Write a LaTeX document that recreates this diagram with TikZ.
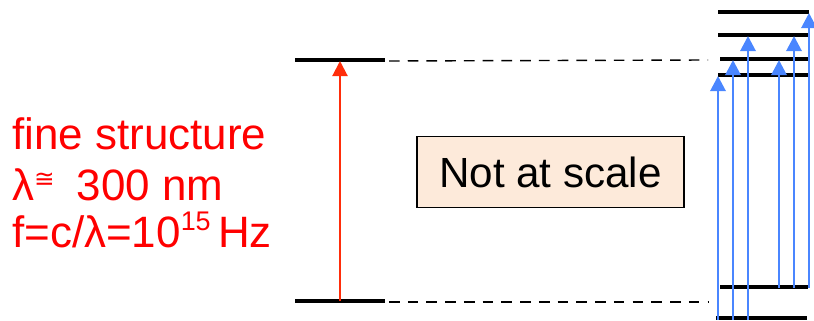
\documentclass[tikz,border=0pt]{standalone}
\usepackage{fontspec}
\setmainfont{Liberation Sans}
\newfontfamily\symfont{DejaVu Sans}
\usetikzlibrary{arrows.meta}
\definecolor{finered}{RGB}{255,0,0}
\definecolor{arrowred}{RGB}{255,45,10}
\definecolor{lineblue}{RGB}{74,134,255}
\definecolor{boxfill}{RGB}{253,234,218}
\tikzset{
  level/.style={line width=3.4pt},
  guide/.style={line width=1.2pt, dash pattern=on 9pt off 7pt},
  bigtip/.style={-{Triangle[width=13pt,length=13pt]}},
  redline/.style={bigtip, line width=1.8pt, draw=arrowred},
  blueline/.style={bigtip, line width=2.5pt, draw=lineblue},
  redtext/.style={text=finered, anchor=base west, inner sep=0pt, font=\fontsize{37.5}{42}\selectfont}
}
\begin{document}
\begin{tikzpicture}[x=0.03cm, y=-0.03cm]
\useasboundingbox (0,0) rectangle (814,321);
\node[redtext] (fs) at (12,150) {fine structure};
\node[redtext] (lam) at (12,201) {λ\raisebox{0.30em}{\fontsize{21}{21}\symfont ≅}\hspace{0.5em}300 nm};
\node[redtext] (freq) at (12,248) {f=c/λ=10\raisebox{0.40em}{\fontsize{23}{23}\selectfont 15}\,Hz};
\node[draw, line width=1pt, fill=boxfill, minimum width=228pt, minimum height=60pt, font=\fontsize{36}{42}\selectfont] (note) at (550.5,172) {Not at scale};
\coordinate (ua) at (295,60);
\coordinate (ub) at (385,60);
\coordinate (la) at (295,301);
\coordinate (lb) at (385,301);
\coordinate (uc) at (708,60);
\coordinate (lc) at (708,302);
\draw[level] (ua) -- (ub);
\draw[level] (la) -- (lb);
\draw[guide] (ub) ++(4,1) -- (uc);
\draw[guide] (lb) ++(4,1) -- (lc);
\coordinate (r1) at (340,301);
\coordinate (r2) at (340,61);
\draw[redline] (r1) -- (r2);
\draw[level] (718,12) -- (809,12);
\draw[level] (718,35) -- (808,35);
\draw[level] (720,59) -- (808,59);
\draw[level] (718,75) -- (808,75);
\draw[level] (720,287) -- (808,287);
\draw[level] (716,318) -- (807,318);
\coordinate (b1) at (718,320);
\coordinate (t1) at (718,76);
\coordinate (b2) at (733,320);
\coordinate (t2) at (733,60);
\coordinate (b3) at (748,320);
\coordinate (t3) at (748,36);
\coordinate (b4) at (779,288);
\coordinate (t4) at (779,60);
\coordinate (b5) at (794,288);
\coordinate (t5) at (794,36);
\coordinate (b6) at (809,288);
\coordinate (t6) at (809,13);
\draw[blueline] (b1) -- (t1);
\draw[blueline] (b2) -- (t2);
\draw[blueline] (b3) -- (t3);
\draw[blueline] (b4) -- (t4);
\draw[blueline] (b5) -- (t5);
\draw[blueline] (b6) -- (t6);
\end{tikzpicture}
\end{document}
